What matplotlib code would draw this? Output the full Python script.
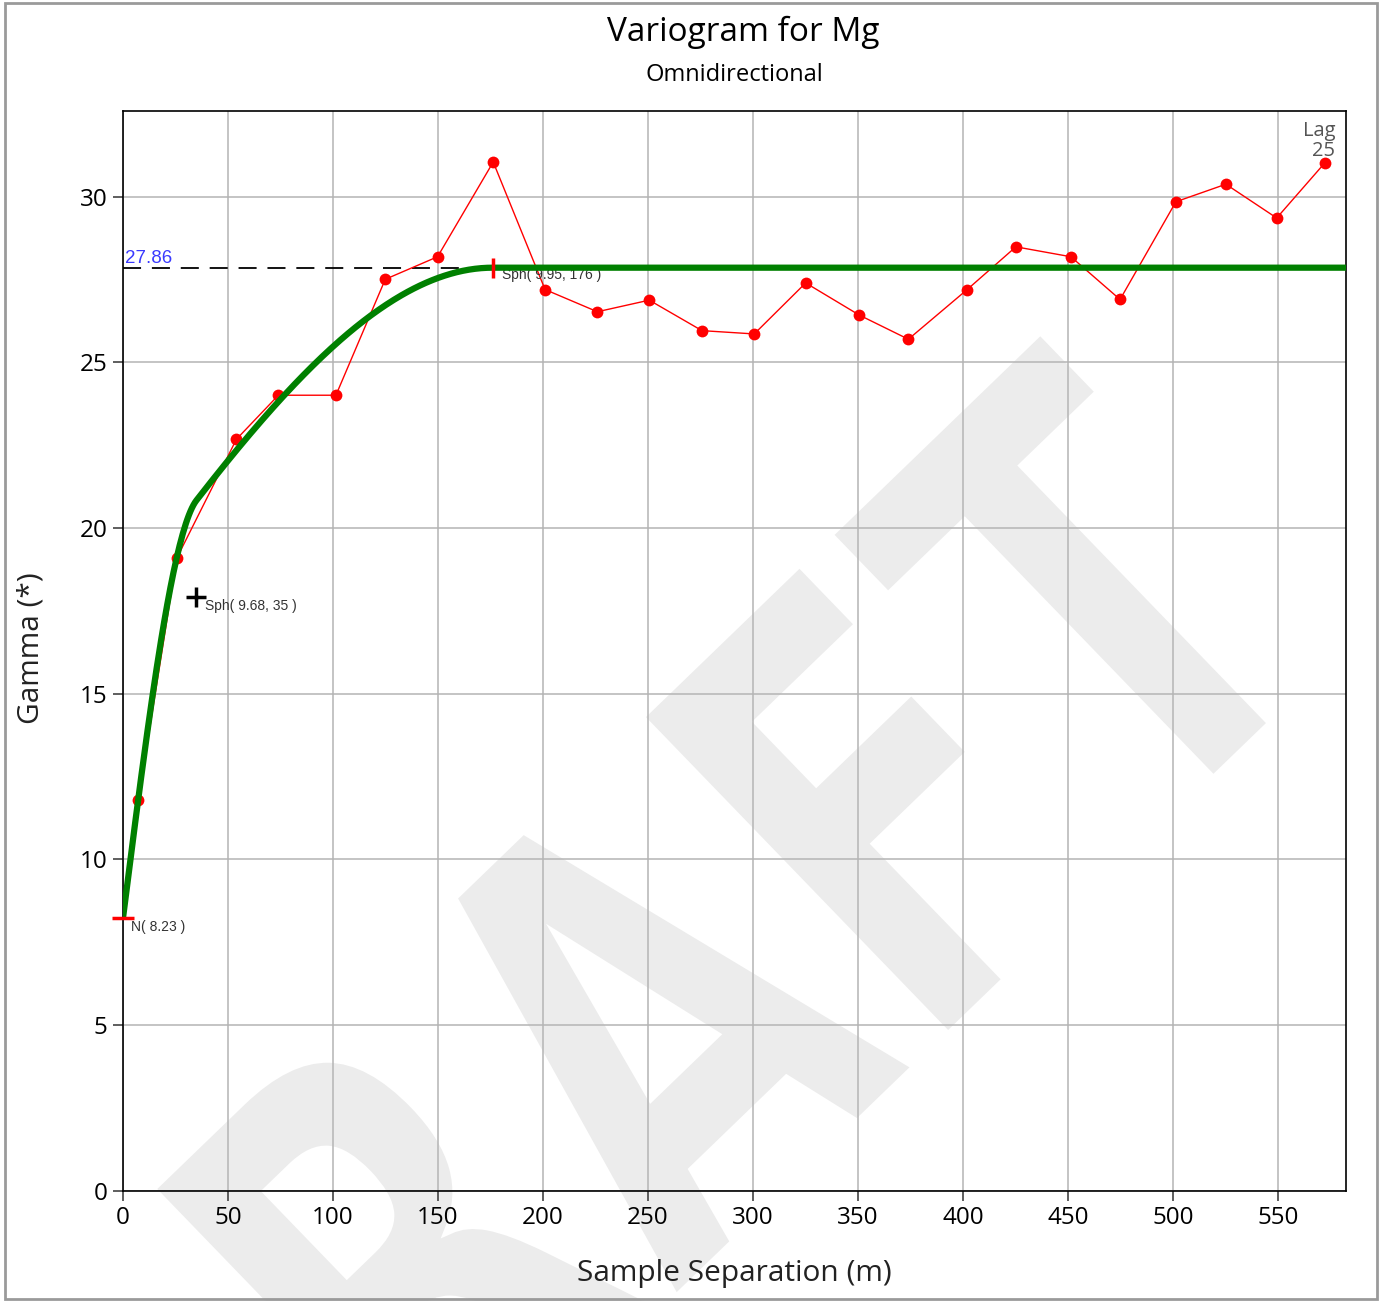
import numpy as np
import matplotlib
matplotlib.use('Agg')
import matplotlib.pyplot as plt
import matplotlib.transforms as mtransforms
from matplotlib.textpath import TextPath
from matplotlib.patches import PathPatch, Rectangle
from matplotlib.font_manager import FontProperties

# ==========================================
# DATOS
# ==========================================
lag_dist = [7.3, 25.6, 54.0, 74.0, 101.4, 124.9, 149.8, 176.3, 201.0, 225.9,
            250.6, 275.7, 300.6, 325.1, 350.6, 374.0, 402.0, 425.2, 451.4,
            474.8, 501.4, 525.2, 549.4, 572.4]
gamma_exp = [11.79, 19.09, 22.68, 24.01, 24.01, 27.51, 28.19, 31.05, 27.20,
             26.53, 26.88, 25.96, 25.86, 27.40, 26.43, 25.70, 27.20, 28.49,
             28.19, 26.90, 29.85, 30.38, 29.36, 31.03]

# modelo: pepita + dos esféricas
nugget = 8.23
sph1_sill, sph1_range = 9.68, 35
sph2_sill, sph2_range = 9.95, 176
total_sill = 27.86
last_lag_label = "Lag\n25"

x_ticks = list(range(0, 551, 50))
y_ticks = list(range(0, 31, 5))

W, H = 1380, 1301


def spherical(h, c, a):
    r = np.clip(h / a, 0, 1)
    return c * (1.5 * r - 0.5 * r ** 3)


fig = plt.figure(figsize=(W / 100, H / 100), dpi=100)
fig.patch.set_facecolor('white')

# marco exterior
fig.add_artist(Rectangle((5 / W, 2 / H), 1372 / W, 1296 / H, transform=fig.transFigure,
                         fill=False, edgecolor='#9a9a9a', lw=2, zorder=5))

# marca de agua DRAFT
fp = FontProperties(family='DejaVu Sans', weight='bold')
tp = TextPath((0, 0), 'DRAFT', size=1, prop=fp)
tp_t = TextPath((0, 0), 'T', size=1, prop=fp)
ext_all = tp.get_extents()
ext_t = tp_t.get_extents()
t_off = ext_all.x1 - ext_t.x1
stem_c = t_off + (ext_t.x0 + ext_t.x1) / 2
sx, sy = 440, 610
wm_tr = (mtransforms.Affine2D().scale(sx, sy).translate(-stem_c * sx, 0)
         .rotate_deg(44).translate(1243, H - 752).scale(1 / fig.dpi)
         + fig.dpi_scale_trans)
fig.add_artist(PathPatch(tp, transform=wm_tr, facecolor='#ececec', edgecolor='white',
                         lw=7, zorder=-1))

ax = fig.add_axes([123 / W, (H - 1190.6) / H, (1346 - 123) / W, (1190.6 - 111) / H])
ax.set_facecolor('none')

h = np.linspace(0, 582.4, 800)
model = nugget + spherical(h, sph1_sill, sph1_range) + spherical(h, sph2_sill, sph2_range)

ax.plot([0, sph2_range], [total_sill, total_sill], color='black', lw=1.3,
        dashes=(10, 6), zorder=2)
ax.plot(lag_dist, gamma_exp, color='red', lw=1.0, marker='o', markersize=8.5,
        markeredgewidth=0, zorder=3, clip_on=False)
ax.plot(h, model, color='#008000', lw=4.5, zorder=4, solid_capstyle='butt')

# marcas del modelo
ax.plot([0], [nugget], marker='_', color='red', markersize=16, mew=2.5, zorder=5, clip_on=False)
ax.plot([sph2_range], [total_sill], marker='|', color='red', markersize=14.5, mew=2.5, zorder=5)
sph1_y = nugget + sph1_sill
ax.plot([sph1_range], [sph1_y], marker='+', color='black', markersize=15, mew=2.5, zorder=5)

small = dict(fontsize=10, family='Liberation Sans', color='#333333', va='center', ha='left')
ax.annotate(f"N( {nugget} )", (0, nugget), xytext=(8, -9), textcoords='offset pixels', **small)
ax.annotate(f"Sph( {sph1_sill}, {sph1_range} )", (sph1_range, sph1_y), xytext=(9, -9),
            textcoords='offset pixels', **small)
ax.annotate(f"Sph( {sph2_sill}, {sph2_range} )", (sph2_range, total_sill), xytext=(9, -7),
            textcoords='offset pixels', **small)
ax.annotate(f"{total_sill:.2f}", (0, total_sill), xytext=(2, 9), textcoords='offset pixels',
            fontsize=13.5, family='Liberation Sans', color='#3a3aff', va='center', ha='left')
ax.annotate(last_lag_label, (lag_dist[-1], gamma_exp[-1]), xytext=(10, 2),
            textcoords='offset pixels', fontsize=14.5, family='Open Sans', color='#555555',
            ha='right', va='bottom', linespacing=0.95)

ax.set_xlim(0, 582.4)
ax.set_ylim(0, 32.59)
ax.set_xticks(x_ticks)
ax.set_yticks(y_ticks)
ax.grid(True, color='#b4b4b4', lw=1.1)
ax.set_axisbelow(True)
ax.tick_params(axis='both', length=7, width=1.1, color='#333333', labelsize=17.5, pad=4)
for lab in ax.get_xticklabels() + ax.get_yticklabels():
    lab.set_family('Open Sans')
for sp in ax.spines.values():
    sp.set_linewidth(1.2)
    sp.set_color('black')

fig.text(743 / W, 1 - 32 / H, "Variogram for Mg", ha='center', va='center',
         fontsize=24, family='Open Sans')
fig.text(734 / W, 1 - 75 / H, "Omnidirectional", ha='center', va='center',
         fontsize=17, family='Open Sans')
fig.text(734 / W, 1 - 1273 / H, "Sample Separation (m)", ha='center', va='center',
         fontsize=21.5, family='Open Sans', color='#222222')
fig.text(31 / W, 1 - 648 / H, "Gamma (*)", ha='center', va='center', rotation=90,
         fontsize=21.5, family='Open Sans', color='#222222')

fig.savefig('out.png', dpi=100)
